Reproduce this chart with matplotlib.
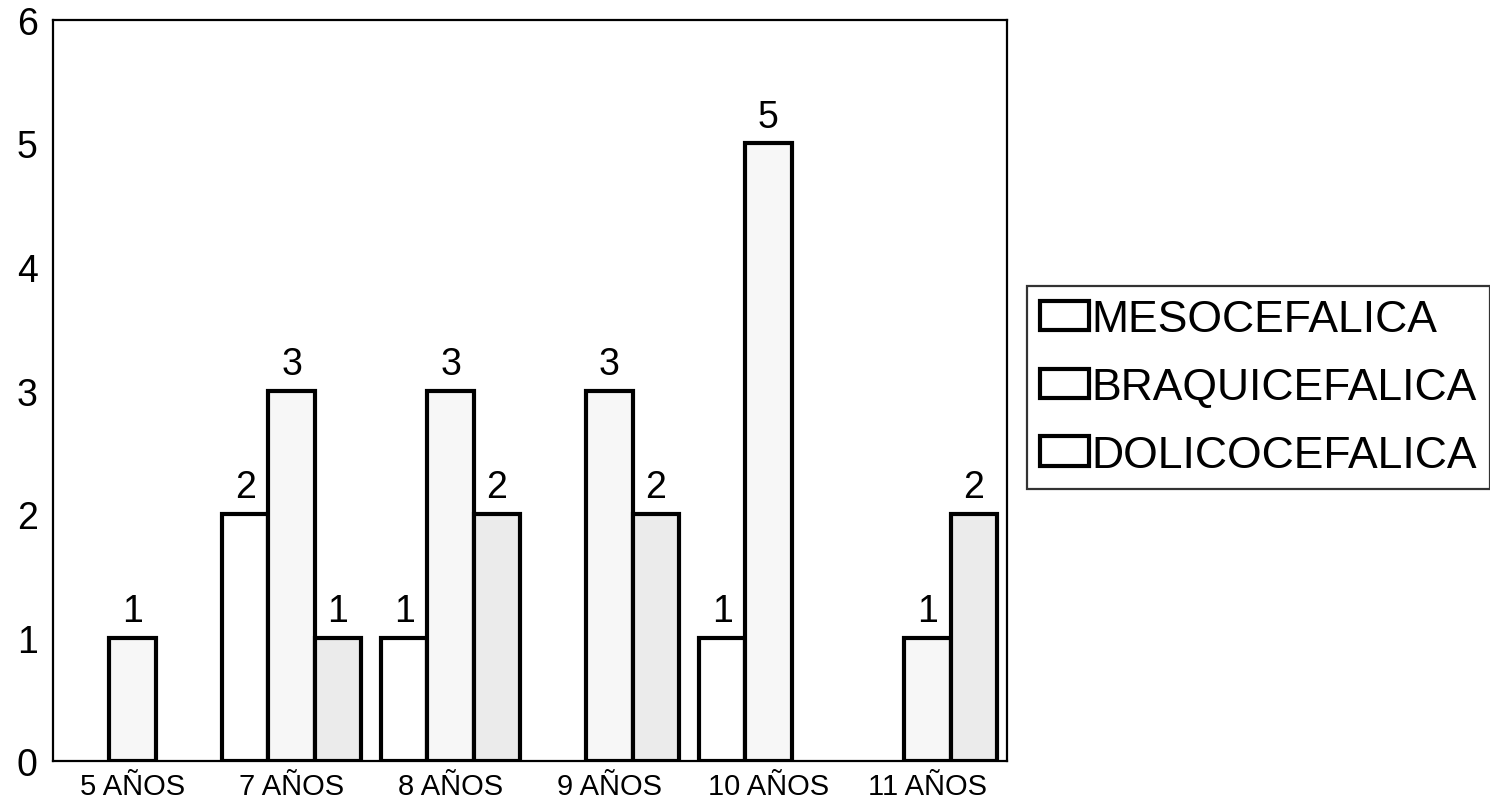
import numpy as np
import matplotlib.pyplot as plt

plt.rcParams['font.family'] = ['Liberation Sans', 'DejaVu Sans']

# grupos de edad y conteo por tipo de cabeza
edades = ['5 AÑOS', '7 AÑOS', '8 AÑOS', '9 AÑOS', '10 AÑOS', '11 AÑOS']
series = ['MESOCEFALICA', 'BRAQUICEFALICA', 'DOLICOCEFALICA']
mesocefalica = [0, 2, 1, 0, 1, 0]
braquicefalica = [1, 3, 3, 3, 5, 1]
dolicocefalica = [0, 1, 2, 2, 0, 2]

colores = ['#ffffff', '#f7f7f7', '#ebebeb']
ancho = 0.29

fig = plt.figure(figsize=(14.9, 8.04), dpi=100)
ax = fig.add_axes([0.0356, 0.0522, 0.6402, 0.9217])

x = np.arange(len(edades))
handles = []
for i, (nombre, valores) in enumerate(zip(series, [mesocefalica, braquicefalica, dolicocefalica])):
    pos = x + (i - 1) * ancho
    vals = np.array(valores, dtype=float)
    mask = vals > 0
    ax.bar(pos[mask], vals[mask], width=ancho, color=colores[i],
           edgecolor='black', linewidth=3, zorder=3)
    handles.append(plt.Rectangle((0, 0), 1, 1, facecolor='white',
                                 edgecolor='black', linewidth=3))
    # etiqueta con el valor arriba de cada barra
    for p, v in zip(pos[mask], vals[mask]):
        ax.annotate(f'{int(v)}', (p, v), xytext=(0, 12), textcoords='offset points',
                    ha='center', va='baseline', fontsize=27)

ax.set_xlim(-0.5, 5.5)
ax.set_ylim(0, 6)
ax.set_xticks(x)
ax.set_xticklabels(edades, fontsize=21)
ax.set_yticks(range(0, 7))
ax.tick_params(axis='y', length=0, pad=11, labelsize=27)
ax.tick_params(axis='x', length=0, pad=8)
for s in ax.spines.values():
    s.set_linewidth(1.6)

leg = fig.legend(handles, series, loc='upper left',
                 bbox_to_anchor=(1027 / 1490, 1 - 287 / 804),
                 fontsize=32, frameon=True, fancybox=False, edgecolor='black',
                 handlelength=1.1, handleheight=0.63, handletextpad=0.05,
                 labelspacing=0.6, borderpad=0.3, borderaxespad=0)
leg.get_frame().set_linewidth(1.6)

fig.savefig('out.png', dpi=100)
